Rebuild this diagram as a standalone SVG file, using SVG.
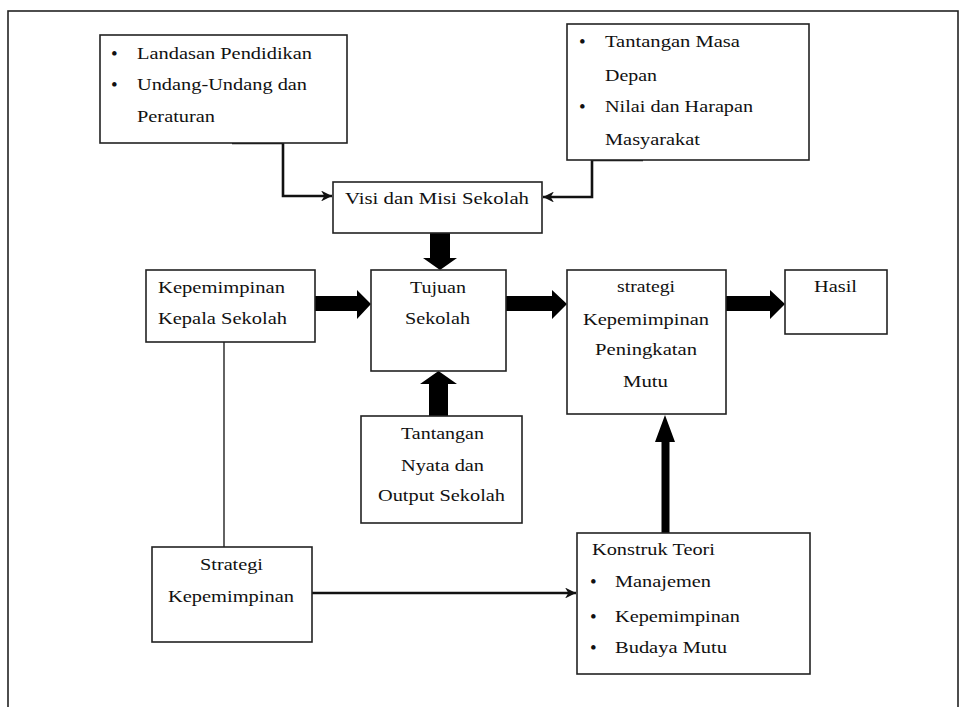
<svg xmlns="http://www.w3.org/2000/svg" width="967" height="707" viewBox="0 0 967 707">
<style>
  .box { fill: #fff; stroke: #222; stroke-width: 1.6; }
  .t { font-family: "Liberation Serif", "Times New Roman", serif; font-size: 17.5px; fill: #111; }
  .b { font-family: "Liberation Serif", "Times New Roman", serif; font-size: 19px; fill: #111; }
  .conn { fill: none; stroke: #111; stroke-width: 2.6; }
  .thin { fill: none; stroke: #222; stroke-width: 1.4; }
  .block { fill: #000; }
</style>
<defs>
  <marker id="ah" viewBox="0 0 10 10" refX="10" refY="5" markerWidth="4.2" markerHeight="4.2" orient="auto" markerUnits="strokeWidth">
    <path d="M0,0 L10,5 L0,10 L3,5 z" fill="#111"/>
  </marker>
</defs>
<rect x="0" y="0" width="967" height="707" fill="#fff"/>
<rect x="8" y="11" width="950" height="710" fill="none" stroke="#222" stroke-width="1.6"/>

<g id="connectors">
  <path class="conn" d="M232,143 H283 V196 H332" marker-end="url(#ah)"/>
  <path class="conn" d="M643,160 H592 V197 H543" marker-end="url(#ah)"/>
  <polygon class="block" points="430,233 450,233 450,258 457,258 440,270 423,258 430,258"/>
  <polygon class="block" points="429,416 448,416 448,384 457,384 438.5,371 420,384 429,384"/>
  <polygon class="block" points="315,296 357,296 357,290 371,304 357,319 357,311 315,311"/>
  <polygon class="block" points="506,296 552,296 552,290 567,304 552,319 552,311 506,311"/>
  <polygon class="block" points="726,296 770,296 770,290 785,304 770,319 770,311 726,311"/>
  <polygon class="block" points="661.5,533 669.5,533 669.5,442 675,442 665,415 655,442 661.5,442"/>
  <line class="thin" x1="224" y1="342" x2="224" y2="547"/>
  <path class="conn" d="M312,593 H576" stroke-width="2.2" marker-end="url(#ah)"/>
</g>

<g id="node-landasan">
  <rect class="box" x="100" y="35" width="247" height="108"/>
  <text class="b" x="111" y="60">•</text>
  <text class="t" x="137" y="59" textLength="175" lengthAdjust="spacingAndGlyphs">Landasan Pendidikan</text>
  <text class="b" x="111" y="91">•</text>
  <text class="t" x="137" y="90" textLength="170" lengthAdjust="spacingAndGlyphs">Undang-Undang dan</text>
  <text class="t" x="137" y="122" textLength="78" lengthAdjust="spacingAndGlyphs">Peraturan</text>
</g>

<g id="node-tantangan-masa">
  <rect class="box" x="567" y="24" width="242" height="136"/>
  <text class="b" x="579" y="48">•</text>
  <text class="t" x="605" y="47" textLength="135" lengthAdjust="spacingAndGlyphs">Tantangan Masa</text>
  <text class="t" x="605" y="81" textLength="52" lengthAdjust="spacingAndGlyphs">Depan</text>
  <text class="b" x="579" y="113">•</text>
  <text class="t" x="605" y="112" textLength="148" lengthAdjust="spacingAndGlyphs">Nilai dan Harapan</text>
  <text class="t" x="605" y="145" textLength="95" lengthAdjust="spacingAndGlyphs">Masyarakat</text>
</g>

<g id="node-visi">
  <rect class="box" x="333" y="182" width="209" height="51"/>
  <text class="t" x="345" y="204" textLength="184" lengthAdjust="spacingAndGlyphs">Visi dan Misi Sekolah</text>
</g>

<g id="node-kepemimpinan">
  <rect class="box" x="146" y="270" width="169" height="72"/>
  <text class="t" x="158" y="293" textLength="127" lengthAdjust="spacingAndGlyphs">Kepemimpinan</text>
  <text class="t" x="158" y="324" textLength="129" lengthAdjust="spacingAndGlyphs">Kepala Sekolah</text>
</g>

<g id="node-tujuan">
  <rect class="box" x="371" y="270" width="135" height="101"/>
  <text class="t" x="410" y="293" textLength="56" lengthAdjust="spacingAndGlyphs">Tujuan</text>
  <text class="t" x="405" y="324" textLength="65" lengthAdjust="spacingAndGlyphs">Sekolah</text>
</g>

<g id="node-strategi-mutu">
  <rect class="box" x="567" y="270" width="159" height="144"/>
  <text class="t" x="617" y="292" textLength="58" lengthAdjust="spacingAndGlyphs">strategi</text>
  <text class="t" x="583" y="325" textLength="126" lengthAdjust="spacingAndGlyphs">Kepemimpinan</text>
  <text class="t" x="595" y="355" textLength="102" lengthAdjust="spacingAndGlyphs">Peningkatan</text>
  <text class="t" x="623" y="387" textLength="45" lengthAdjust="spacingAndGlyphs">Mutu</text>
</g>

<g id="node-hasil">
  <rect class="box" x="785" y="270" width="102" height="64"/>
  <text class="t" x="814" y="292" textLength="43" lengthAdjust="spacingAndGlyphs">Hasil</text>
</g>

<g id="node-tantangan-nyata">
  <rect class="box" x="361" y="416" width="161" height="107"/>
  <text class="t" x="401" y="439" textLength="83" lengthAdjust="spacingAndGlyphs">Tantangan</text>
  <text class="t" x="401" y="471" textLength="83" lengthAdjust="spacingAndGlyphs">Nyata dan</text>
  <text class="t" x="378" y="501" textLength="127" lengthAdjust="spacingAndGlyphs">Output Sekolah</text>
</g>

<g id="node-strategi">
  <rect class="box" x="152" y="547" width="160" height="95"/>
  <text class="t" x="200" y="570" textLength="63" lengthAdjust="spacingAndGlyphs">Strategi</text>
  <text class="t" x="168" y="602" textLength="126" lengthAdjust="spacingAndGlyphs">Kepemimpinan</text>
</g>

<g id="node-konstruk">
  <rect class="box" x="577" y="533" width="233" height="141"/>
  <text class="t" x="592" y="555" textLength="123" lengthAdjust="spacingAndGlyphs">Konstruk Teori</text>
  <text class="b" x="590" y="588">•</text>
  <text class="t" x="615" y="587" textLength="96" lengthAdjust="spacingAndGlyphs">Manajemen</text>
  <text class="b" x="590" y="623">•</text>
  <text class="t" x="615" y="622" textLength="125" lengthAdjust="spacingAndGlyphs">Kepemimpinan</text>
  <text class="b" x="590" y="654">•</text>
  <text class="t" x="615" y="653" textLength="112" lengthAdjust="spacingAndGlyphs">Budaya Mutu</text>
</g>
</svg>
